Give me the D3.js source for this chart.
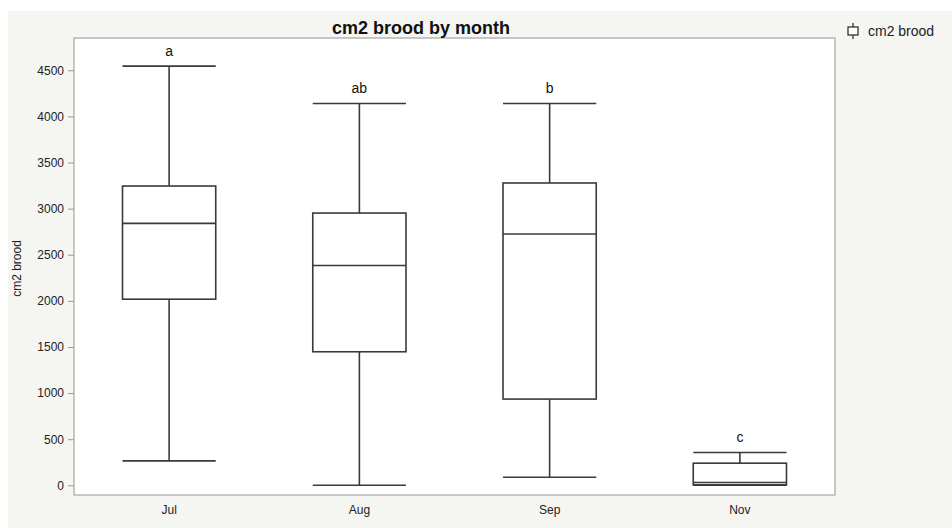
<!DOCTYPE html>
<html><head><meta charset="utf-8">
<script src="https://cdn.jsdelivr.net/npm/d3@7"></script>
<style>
html,body{margin:0;padding:0;background:#fff;}
svg{display:block;font-family:"Liberation Sans",Arial,Helvetica,sans-serif;}
</style></head>
<body>
<svg id="chart" width="952" height="528"></svg>
<script>
const months = ["Jul", "Aug", "Sep", "Nov"];
const whiskerLow = [265, 0, 88, 0];
const q1 = [2018, 1448, 935, 5];
const median = [2840, 2384, 2725, 30];
const q3 = [3245, 2952, 3278, 240];
const whiskerHigh = [4545, 4140, 4140, 356];
const groupLetters = ["a", "ab", "b", "c"];
const yTicks = [0, 500, 1000, 1500, 2000, 2500, 3000, 3500, 4000, 4500];

const svg = d3.select("#chart");
const W = 952, H = 528;
const m = {left: 74, right: 835, top: 38, bottom: 495};

svg.append("rect").attr("x", 8).attr("y", 11).attr("width", W - 8).attr("height", H - 11).attr("fill", "#f5f5f2");
svg.append("rect").attr("x", m.left).attr("y", m.top).attr("width", m.right - m.left).attr("height", m.bottom - m.top)
  .attr("fill", "#fff").attr("stroke", "#b5b5b5").attr("stroke-width", 1.5);

const x = d3.scaleBand().domain(months).range([m.left, m.right]).paddingInner(0).paddingOuter(0);
const y = d3.scaleLinear().domain([-105, 4850]).range([m.bottom, m.top]);

// y axis
const yAxis = svg.append("g").attr("transform", `translate(${m.left},0)`)
  .call(d3.axisLeft(y).tickValues(yTicks).tickSize(6).tickPadding(4).tickFormat(d3.format("d")));
yAxis.select(".domain").remove();
yAxis.selectAll(".tick line").attr("stroke", "#999");
yAxis.selectAll(".tick text").attr("fill", "#222").attr("font-size", 12).attr("font-family", "Liberation Sans, Arial, sans-serif");

// x axis
const xAxis = svg.append("g").attr("transform", `translate(0,${m.bottom})`)
  .call(d3.axisBottom(x).tickSize(0).tickPadding(10));
xAxis.select(".domain").remove();
xAxis.selectAll(".tick text").attr("fill", "#222").attr("font-size", 12).attr("font-family", "Liberation Sans, Arial, sans-serif");

// y label
svg.append("text").attr("transform", `translate(21,${(m.top + m.bottom) / 2 + 2}) rotate(-90)`)
  .attr("text-anchor", "middle").attr("font-size", 12).attr("fill", "#222").text("cm2 brood");

// title
svg.append("text").attr("x", 421).attr("y", 34).attr("text-anchor", "middle")
  .attr("font-size", 18).attr("font-weight", "bold").attr("fill", "#111").text("cm2 brood by month");

// boxes
const boxW = x.bandwidth() * 0.49;
const data = months.map((mo, i) => ({mo, lo: whiskerLow[i], q1: q1[i], med: median[i], q3: q3[i], hi: whiskerHigh[i], letter: groupLetters[i]}));
const stroke = "#3a3a3a", sw = 1.6;
const g = svg.selectAll(".box").data(data).join("g").attr("class", "box");
g.each(function(d) {
  const s = d3.select(this);
  const cx = x(d.mo) + x.bandwidth() / 2;
  const x0 = cx - boxW / 2, x1 = cx + boxW / 2;
  s.append("line").attr("x1", cx).attr("x2", cx).attr("y1", y(d.hi)).attr("y2", y(d.q3)).attr("stroke", stroke).attr("stroke-width", sw);
  s.append("line").attr("x1", cx).attr("x2", cx).attr("y1", y(d.q1)).attr("y2", y(d.lo)).attr("stroke", stroke).attr("stroke-width", sw);
  s.append("line").attr("x1", x0).attr("x2", x1).attr("y1", y(d.hi)).attr("y2", y(d.hi)).attr("stroke", stroke).attr("stroke-width", sw);
  s.append("line").attr("x1", x0).attr("x2", x1).attr("y1", y(d.lo)).attr("y2", y(d.lo)).attr("stroke", stroke).attr("stroke-width", sw);
  s.append("rect").attr("x", x0).attr("y", y(d.q3)).attr("width", boxW).attr("height", y(d.q1) - y(d.q3))
    .attr("fill", "none").attr("stroke", stroke).attr("stroke-width", sw);
  s.append("line").attr("x1", x0).attr("x2", x1).attr("y1", y(d.med)).attr("y2", y(d.med)).attr("stroke", stroke).attr("stroke-width", sw);
  s.append("text").attr("x", cx).attr("y", y(d.hi) - 10).attr("text-anchor", "middle")
    .attr("font-size", 14).attr("fill", "#111").text(d.letter);
});

// legend
const lg = svg.append("g").attr("transform", "translate(853,31)");
lg.append("line").attr("x1", 0).attr("x2", 0).attr("y1", -8).attr("y2", 8).attr("stroke", "#333").attr("stroke-width", 1.3);
lg.append("rect").attr("x", -5).attr("y", -4).attr("width", 10).attr("height", 8).attr("fill", "#fff").attr("stroke", "#333").attr("stroke-width", 1.3);
lg.append("text").attr("x", 15).attr("y", 5).attr("font-size", 14).attr("fill", "#222").text("cm2 brood");
</script>
</body></html>
